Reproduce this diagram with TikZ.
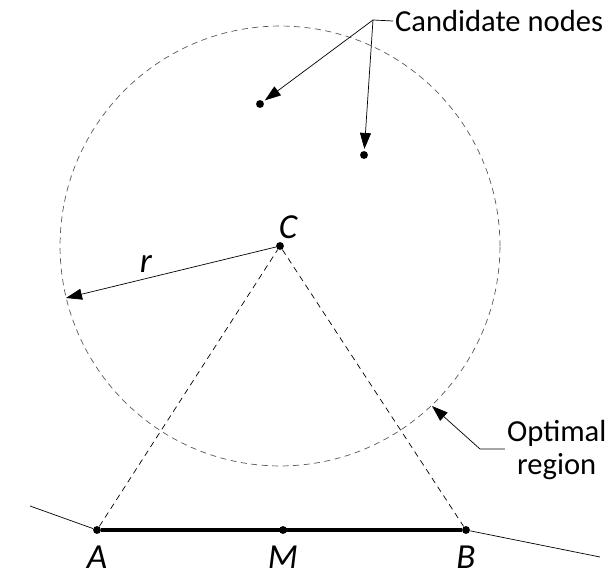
\documentclass[tikz,border=0pt]{standalone}
\usepackage{fontspec}
\setmainfont{Carlito}
\usepackage{tikz}
\usetikzlibrary{arrows.meta,positioning,calc}

\begin{document}
\begin{tikzpicture}[
    x=0.02cm, y=-0.02cm,
    dot/.style={circle, fill, inner sep=0pt, minimum size=4.5pt},
    lbl/.style={font=\fontsize{17.4}{19}\selectfont, align=center},
    pt/.style={font=\fontsize{20}{22}\selectfont\itshape, inner sep=1pt},
    arrow/.style={-{Triangle[length=3.2mm, width=2.2mm]}, thin},
    dline/.style={dashed, dash pattern=on 1.2mm off 0.9mm, thin}
]
\useasboundingbox (0,0) rectangle (610,575);

% --- points ---
\node[dot] (C) at (280,246) {};
\node[dot] (N1) at (260,104) {};
\node[dot] (N2) at (364,155) {};
\node[dot] (A) at (97,530) {};
\node[dot] (M) at (283,530) {};
\node[dot] (B) at (466,530) {};
\coordinate (L) at (30,506);
\coordinate (R) at (600,557);

% --- labels ---
\node[pt] (Clbl) at (288,227) {C};
\node[pt] (rlbl) at (146,264) {r};
\node[pt] (Albl) at (97,557) {A};
\node[pt] (Mlbl) at (283,557) {M};
\node[pt] (Blbl) at (466,557) {B};
\node[lbl, anchor=west, inner sep=1pt] (cand) at (393,21) {Candidate nodes};
\node[lbl, anchor=west, inner sep=1pt] (opt) at (505,450) {Optimal\\region};

% --- optimal region ---
\draw[dline, gray!70!black] (C) circle[radius=4.4cm];

% --- triangle and segment ---
\draw[dline] (A) -- (C) -- (B);
\draw[line width=2pt] (A) -- (B);
\draw[thin] (L) -- (A);
\draw[thin] (B) -- (R);

% --- callouts ---
\coordinate (rtip) at (66,298);
\draw[arrow] (C) -- (rtip);
\coordinate (ck) at (373,20);
\draw[thin] (cand.west) -- (ck);
\draw[arrow, shorten >=1pt] (ck) -- (N1);
\draw[arrow, shorten >=1pt] (ck) -- (N2);
\coordinate (ok) at (480,449);
\coordinate (otip) at (432,406);
\draw[arrow] (opt.west |- ok) -- (ok) -- (otip);

\end{tikzpicture}
\end{document}
